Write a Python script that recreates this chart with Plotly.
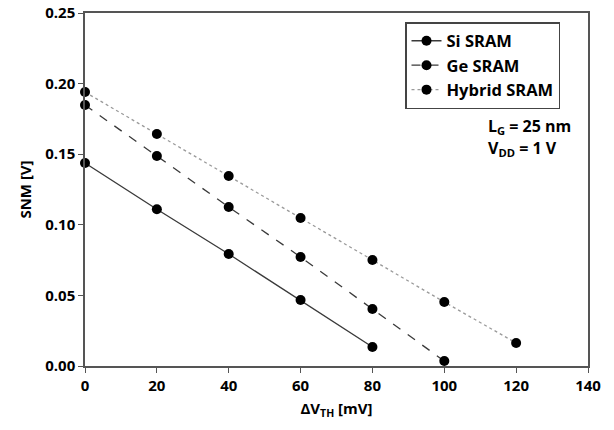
import plotly.graph_objects as go

dvth_si = [0, 20, 40, 60, 80]
snm_si = [0.1438, 0.111, 0.0793, 0.0467, 0.0135]
dvth_ge = [0, 20, 40, 60, 80, 100]
snm_ge = [0.1848, 0.1487, 0.1126, 0.0772, 0.0404, 0.0035]
dvth_hy = [0, 20, 40, 60, 80, 100, 120]
snm_hy = [0.194, 0.1643, 0.1346, 0.1048, 0.0751, 0.0453, 0.0163]

FONT = "Open Sans"
def f(size):
    return dict(family=FONT, size=size, color="black", weight=700)

fig = go.Figure()
fig.add_trace(go.Scatter(x=dvth_si, y=snm_si, mode="lines+markers", name="Si SRAM",
                         line=dict(color="#3a3a3a", width=1.3, dash="solid"),
                         marker=dict(color="black", size=10), cliponaxis=False))
fig.add_trace(go.Scatter(x=dvth_ge, y=snm_ge, mode="lines+markers", name="Ge SRAM",
                         line=dict(color="#3a3a3a", width=1.3, dash="dash"),
                         marker=dict(color="black", size=10), cliponaxis=False))
fig.add_trace(go.Scatter(x=dvth_hy, y=snm_hy, mode="lines+markers", name="Hybrid SRAM",
                         line=dict(color="#9a9a9a", width=1.3, dash="dot"),
                         marker=dict(color="black", size=10), cliponaxis=False))

axis_common = dict(showline=True, linecolor="#555555", linewidth=1.5, mirror=True,
                   ticks="outside", ticklen=5, tickcolor="#555555", tickwidth=1,
                   showgrid=False, zeroline=False, automargin=False,
                   ticklabeloverflow="allow", tickfont=f(15))
fig.update_xaxes(range=[0, 140], dtick=20,
                 title=dict(text="ΔV<sub>TH</sub> [mV]", font=f(15), standoff=10), **axis_common)
fig.update_yaxes(range=[0, 0.25], dtick=0.05, tickformat=".2f",
                 title=dict(text="SNM [V]", font=f(15), standoff=10), **axis_common)
fig.update_layout(
    width=614, height=430,
    margin=dict(l=85, r=26, t=13, b=64),
    plot_bgcolor="white", paper_bgcolor="white",
    font=f(15),
    legend=dict(x=(405-85)/503, y=(366-22)/353, xanchor="left", yanchor="top",
                bordercolor="#444444", borderwidth=1.5, bgcolor="white",
                font=f(16.5), tracegroupgap=0),
)
fig.add_annotation(x=(486-85)/503, y=(366-126)/353, xref="paper", yref="paper", xanchor="left", yanchor="middle",
                   showarrow=False, text="L<sub>G</sub> = 25 nm", font=f(16))
fig.add_annotation(x=(486-85)/503, y=(366-148)/353, xref="paper", yref="paper", xanchor="left", yanchor="middle",
                   showarrow=False, text="V<sub>DD</sub> = 1 V", font=f(16))
# remove the page's default 8px body margin so the figure fills the window exactly
fig.write_html("out.html", config={"displayModeBar": False},
               post_script="document.body.style.margin='0';")
